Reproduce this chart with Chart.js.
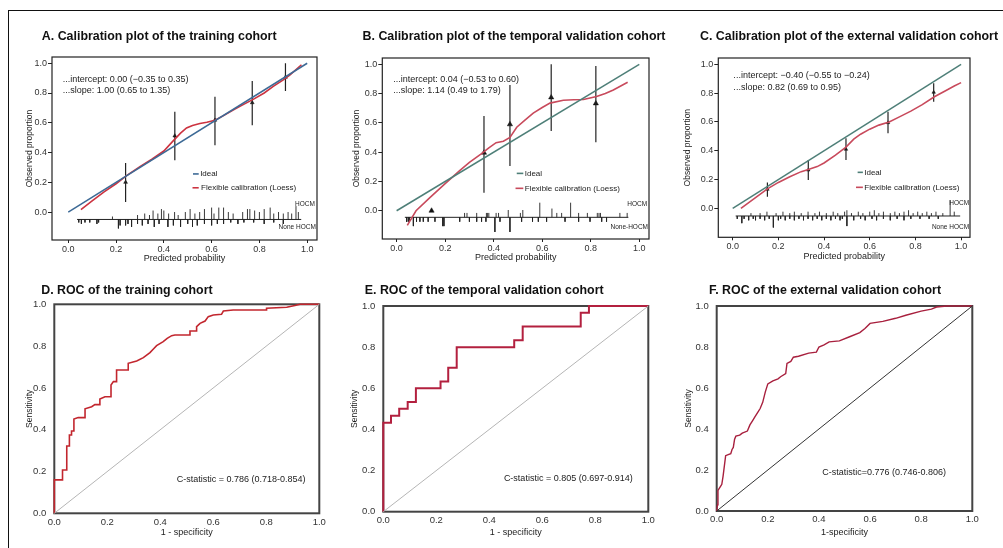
<!DOCTYPE html>
<html>
<head>
<meta charset="utf-8">
<script src="https://cdn.jsdelivr.net/npm/chart.js@4.4.0/dist/chart.umd.min.js"></script>
<style>
html, body { margin: 0; padding: 0; background: #fff; width: 1003px; height: 548px; overflow: hidden; }
#frame { position: absolute; left: 8px; top: 10px; width: 1010px; height: 600px; border-left: 1.5px solid #111; border-top: 1.5px solid #111; }
canvas { position: absolute; }
</style>
</head>
<body>
<div id="frame"></div>
<script>
var FONT = "'Liberation Sans', Arial, sans-serif";
var tickVals = [0, 0.2, 0.4, 0.6, 0.8, 1.0];

// ---- A. calibration, training cohort
var loessA_x = [0.053, 0.1, 0.15, 0.2, 0.244, 0.3, 0.35, 0.4, 0.44, 0.47, 0.495, 0.52, 0.551, 0.58, 0.614, 0.65, 0.69, 0.73, 0.774, 0.82, 0.858, 0.9, 0.927, 0.976];
var loessA_y = [0.016, 0.075, 0.135, 0.19, 0.245, 0.305, 0.355, 0.41, 0.48, 0.53, 0.565, 0.582, 0.595, 0.603, 0.617, 0.648, 0.685, 0.72, 0.757, 0.8, 0.845, 0.888, 0.92, 0.99];
var groupA_x = [0.24, 0.446, 0.614, 0.77, 0.909];
var groupA_obs = [0.20, 0.512, 0.618, 0.735, 0.906];
var groupA_lo = [0.067, 0.348, 0.449, 0.584, 0.813];
var groupA_hi = [0.33, 0.674, 0.775, 0.881, 1.0];
var rugA_upX = [0.185, 0.29, 0.32, 0.34, 0.355, 0.375, 0.39, 0.40, 0.42, 0.445, 0.46, 0.49, 0.51, 0.53, 0.55, 0.57, 0.60, 0.61, 0.63, 0.65, 0.67, 0.69, 0.73, 0.75, 0.76, 0.78, 0.80, 0.82, 0.845, 0.86, 0.88, 0.90, 0.92, 0.935, 0.953, 0.963];
var rugA_upH = [0.02, 0.03, 0.04, 0.03, 0.06, 0.04, 0.07, 0.06, 0.04, 0.05, 0.03, 0.05, 0.07, 0.04, 0.05, 0.07, 0.08, 0.04, 0.08, 0.08, 0.05, 0.04, 0.05, 0.07, 0.07, 0.06, 0.05, 0.07, 0.08, 0.04, 0.05, 0.04, 0.05, 0.04, 0.09, 0.05];
var rugA_dnX = [0.044, 0.055, 0.07, 0.09, 0.12, 0.127, 0.21, 0.217, 0.24, 0.25, 0.265, 0.29, 0.31, 0.334, 0.36, 0.38, 0.417, 0.44, 0.47, 0.5, 0.52, 0.54, 0.57, 0.6, 0.624, 0.65, 0.68, 0.71, 0.735, 0.776, 0.82, 0.86, 0.9];
var rugA_dnH = [0.02, 0.03, 0.02, 0.02, 0.03, 0.02, 0.06, 0.04, 0.04, 0.03, 0.05, 0.03, 0.04, 0.03, 0.05, 0.03, 0.05, 0.04, 0.05, 0.03, 0.05, 0.04, 0.03, 0.04, 0.03, 0.03, 0.02, 0.03, 0.02, 0.02, 0.03, 0.02, 0.03];

// ---- B. calibration, temporal validation cohort
var loessB_x = [0.044, 0.08, 0.137, 0.2, 0.261, 0.3, 0.35, 0.38, 0.41, 0.44, 0.467, 0.495, 0.53, 0.563, 0.6, 0.632, 0.687, 0.73, 0.77, 0.824, 0.86, 0.893, 0.952];
var loessB_y = [-0.10, 0.0, 0.09, 0.185, 0.275, 0.33, 0.39, 0.43, 0.465, 0.475, 0.5, 0.57, 0.62, 0.667, 0.705, 0.735, 0.755, 0.758, 0.76, 0.78, 0.8, 0.825, 0.877];
var groupB_x = [0.144, 0.36, 0.467, 0.637, 0.821];
var groupB_obs = [0.0, 0.396, 0.59, 0.774, 0.733];
var groupB_lo = [0.0, 0.123, 0.305, 0.544, 0.467];
var groupB_hi = [0.0, 0.647, 0.859, 1.0, 0.989];
var rugB_upX = [0.28, 0.29, 0.33, 0.37, 0.375, 0.38, 0.41, 0.42, 0.46, 0.51, 0.52, 0.59, 0.64, 0.66, 0.68, 0.717, 0.75, 0.786, 0.827, 0.834, 0.84, 0.92, 0.95];
var rugB_upH = [0.03, 0.03, 0.03, 0.03, 0.03, 0.03, 0.03, 0.03, 0.05, 0.03, 0.05, 0.1, 0.06, 0.03, 0.03, 0.1, 0.03, 0.03, 0.03, 0.03, 0.03, 0.03, 0.03];
var rugB_dnX = [0.041, 0.048, 0.052, 0.069, 0.082, 0.096, 0.11, 0.13, 0.158, 0.19, 0.195, 0.26, 0.3, 0.33, 0.35, 0.368, 0.405, 0.426, 0.467, 0.515, 0.56, 0.584, 0.618, 0.694, 0.75, 0.797, 0.845, 0.865];
var rugB_dnH = [0.03, 0.03, 0.03, 0.06, 0.03, 0.03, 0.03, 0.03, 0.03, 0.06, 0.06, 0.03, 0.03, 0.03, 0.03, 0.03, 0.1, 0.03, 0.1, 0.03, 0.03, 0.03, 0.03, 0.03, 0.03, 0.03, 0.03, 0.03];

// ---- C. calibration, external validation cohort
var loessC_x = [0.036, 0.1, 0.152, 0.2, 0.25, 0.3, 0.331, 0.37, 0.4, 0.45, 0.496, 0.53, 0.56, 0.6, 0.64, 0.685, 0.73, 0.78, 0.83, 0.883, 0.93, 0.97, 1.0];
var loessC_y = [0.0, 0.075, 0.135, 0.18, 0.22, 0.255, 0.27, 0.29, 0.315, 0.37, 0.425, 0.48, 0.515, 0.55, 0.578, 0.60, 0.635, 0.675, 0.72, 0.775, 0.815, 0.85, 0.873];
var groupC_x = [0.152, 0.331, 0.496, 0.68, 0.88];
var groupC_obs = [0.132, 0.266, 0.41, 0.595, 0.806];
var groupC_lo = [0.081, 0.197, 0.336, 0.521, 0.741];
var groupC_hi = [0.18, 0.336, 0.486, 0.671, 0.868];
var rugC_upX = [0.08, 0.12, 0.15, 0.19, 0.22, 0.25, 0.27, 0.3, 0.33, 0.36, 0.38, 0.41, 0.44, 0.46, 0.49, 0.5, 0.52, 0.55, 0.57, 0.6, 0.62, 0.64, 0.66, 0.69, 0.71, 0.73, 0.75, 0.77, 0.79, 0.81, 0.83, 0.85, 0.87, 0.89, 0.92, 0.952, 0.97];
var rugC_upH = [0.02, 0.02, 0.03, 0.02, 0.03, 0.02, 0.03, 0.02, 0.03, 0.02, 0.03, 0.02, 0.03, 0.02, 0.03, 0.04, 0.02, 0.03, 0.02, 0.03, 0.04, 0.02, 0.03, 0.02, 0.03, 0.02, 0.03, 0.04, 0.02, 0.03, 0.02, 0.03, 0.02, 0.03, 0.02, 0.11, 0.03];
var rugC_dnX = [0.02, 0.04, 0.05, 0.07, 0.09, 0.1, 0.12, 0.14, 0.16, 0.178, 0.2, 0.21, 0.23, 0.25, 0.27, 0.29, 0.31, 0.33, 0.35, 0.37, 0.39, 0.41, 0.43, 0.45, 0.47, 0.48, 0.5, 0.53, 0.56, 0.58, 0.61, 0.63, 0.66, 0.69, 0.72, 0.75, 0.78, 0.82, 0.86, 0.9];
var rugC_dnH = [0.02, 0.05, 0.02, 0.03, 0.02, 0.03, 0.02, 0.03, 0.02, 0.08, 0.03, 0.02, 0.03, 0.02, 0.03, 0.02, 0.03, 0.02, 0.03, 0.02, 0.03, 0.02, 0.03, 0.02, 0.03, 0.02, 0.07, 0.03, 0.02, 0.03, 0.02, 0.03, 0.02, 0.03, 0.02, 0.03, 0.02, 0.02, 0.02, 0.02];

// ---- D/E/F. ROC curves (1 - specificity, sensitivity)
var rocD_fpr = [0, 0, 0.031, 0.031, 0.047, 0.047, 0.057, 0.057, 0.065, 0.065,
  0.074, 0.074, 0.09, 0.116, 0.116, 0.141, 0.153, 0.172, 0.172, 0.191,
  0.214, 0.214, 0.223, 0.235, 0.235, 0.279, 0.279, 0.311, 0.336, 0.361,
  0.374, 0.386, 0.411, 0.426, 0.443, 0.455, 0.512, 0.512, 0.537, 0.537,
  0.55, 0.569, 0.581, 0.6, 0.631, 0.638, 0.675, 0.801, 0.801, 0.877,
  0.908, 0.927, 1.0];
var rocD_tpr = [0, 0.16, 0.16, 0.207, 0.207, 0.322, 0.322, 0.375, 0.375, 0.394,
  0.394, 0.451, 0.458, 0.458, 0.5, 0.51, 0.52, 0.52, 0.547, 0.558,
  0.558, 0.614, 0.63, 0.63, 0.686, 0.686, 0.718, 0.729, 0.745, 0.769,
  0.786, 0.802, 0.821, 0.837, 0.85, 0.853, 0.853, 0.872, 0.872, 0.893,
  0.909, 0.92, 0.941, 0.949, 0.952, 0.968, 0.973, 0.973, 0.981, 0.986,
  0.994, 1.0, 1.0];
var rocE_fpr = [0, 0, 0.029, 0.029, 0.06, 0.06, 0.092, 0.092, 0.123, 0.123, 0.216, 0.216, 0.245, 0.245, 0.277, 0.277, 0.494, 0.494, 0.526, 0.526, 0.745, 0.745, 0.776, 0.776, 1.0];
var rocE_tpr = [0, 0.433, 0.433, 0.467, 0.467, 0.5, 0.5, 0.533, 0.533, 0.6, 0.6, 0.633, 0.633, 0.7, 0.7, 0.8, 0.8, 0.833, 0.833, 0.9, 0.9, 0.967, 0.967, 1.0, 1.0];
var rocF_fpr = [0, 0.003, 0.005, 0.01, 0.015, 0.02, 0.025, 0.03, 0.035, 0.045,
  0.055, 0.06, 0.065, 0.07, 0.075, 0.09, 0.1, 0.12, 0.13, 0.14,
  0.15, 0.16, 0.17, 0.18, 0.19, 0.2, 0.22, 0.24, 0.25, 0.27,
  0.275, 0.29, 0.3, 0.32, 0.36, 0.39, 0.4, 0.42, 0.44, 0.48,
  0.52, 0.56, 0.58, 0.6, 0.65, 0.7, 0.74, 0.8, 0.84, 0.86,
  0.9, 0.95, 1.0];
var rocF_tpr = [0, 0.03, 0.1, 0.11, 0.12, 0.13, 0.17, 0.22, 0.27, 0.275,
  0.28, 0.3, 0.31, 0.35, 0.365, 0.37, 0.38, 0.39, 0.42, 0.44,
  0.46, 0.48, 0.5, 0.53, 0.58, 0.62, 0.635, 0.645, 0.655, 0.67,
  0.72, 0.73, 0.75, 0.755, 0.77, 0.775, 0.8, 0.81, 0.825, 0.83,
  0.85, 0.87, 0.89, 0.915, 0.925, 0.94, 0.955, 0.975, 0.985, 0.995,
  1.0, 1.0, 1.0];

function pts(xs, ys) {
    return xs.map(function (x, i) { return { x: x, y: ys[i] }; });
}
function bars(xs, lo, hi) {
    var out = [];
    xs.forEach(function (x, i) { out.push({ x: x, y: lo[i] }, { x: x, y: hi[i] }, { x: x, y: null }); });
    return out;
}
function rug(xs, hs, base, dir) {
    var out = [];
    xs.forEach(function (x, i) { out.push({ x: x, y: base }, { x: x, y: base + dir * hs[i] }, { x: x, y: null }); });
    return out;
}
function lineSet(data, color, width) {
    return { data: data, showLine: true, borderColor: color, borderWidth: width, pointRadius: 0, tension: 0, fill: false, clip: 4 };
}

var framePlugin = {
    id: 'frame',
    beforeDatasetsDraw: function (chart, args, opts) {
        var a = chart.chartArea, ctx = chart.ctx;
        ctx.save();
        ctx.strokeStyle = opts.color;
        ctx.lineWidth = opts.width;
        ctx.strokeRect(a.left, a.top, a.right - a.left, a.bottom - a.top);
        ctx.restore();
    }
};

var notesPlugin = {
    id: 'notes',
    afterDatasetsDraw: function (chart, args, opts) {
        var ctx = chart.ctx, xs = chart.scales.x, ys = chart.scales.y;
        ctx.save();
        (opts.swatches || []).forEach(function (s) {
            var py = ys.getPixelForValue(s.y);
            ctx.strokeStyle = s.color;
            ctx.lineWidth = 1.6;
            ctx.beginPath();
            ctx.moveTo(xs.getPixelForValue(s.x0), py);
            ctx.lineTo(xs.getPixelForValue(s.x1), py);
            ctx.stroke();
        });
        (opts.items || []).forEach(function (n) {
            ctx.font = n.size + 'px ' + FONT;
            ctx.fillStyle = '#222';
            ctx.textAlign = n.align || 'left';
            ctx.textBaseline = 'middle';
            ctx.fillText(n.text, xs.getPixelForValue(n.x), ys.getPixelForValue(n.y));
        });
        ctx.restore();
    }
};

function makePanel(id, p) {
    // canvas spans from just left of the y title; a blank right-hand axis widens the
    // title box so that the centred title lands where it is in the figure
    var CL = Math.floor(Math.min(p.yTitleX - 8, 2 * p.tcx - p.box.r));
    var y2W = 2 * p.tcx - CL - p.box.r;
    var CW = Math.ceil(p.box.r + y2W + 8 - CL);
    var pr = CL + CW - p.box.r - y2W;
    var CT = Math.round(p.tcy - 12), CH = Math.round(p.xTitleY + 9 - CT);
    var canvas = document.createElement('canvas');
    canvas.id = id;
    canvas.width = CW;
    canvas.height = CH;
    canvas.style.left = CL + 'px';
    canvas.style.top = CT + 'px';
    canvas.style.width = CW + 'px';
    canvas.style.height = CH + 'px';
    document.body.appendChild(canvas);

    var yW = p.box.l - CL;
    var xH = CT + CH - p.box.b;
    var tickFont = { family: FONT, size: p.tickSize };
    var ctx = canvas.getContext('2d');
    return new Chart(ctx, {
        type: 'scatter',
        data: { datasets: p.datasets },
        options: {
            responsive: false,
            devicePixelRatio: 1,
            animation: false,
            events: [],
            layout: { padding: { left: 0, top: 0, bottom: 0, right: pr } },
            plugins: {
                legend: { display: false },
                tooltip: { enabled: false },
                title: {
                    display: true,
                    text: p.title,
                    color: '#111',
                    font: { family: FONT, size: 12.4, weight: 'bold', lineHeight: 1.2 },
                    padding: { top: p.tcy - 7.44 - CT, bottom: p.box.t - p.tcy - 7.44 }
                },
                frame: { color: p.frameColor, width: p.frameWidth },
                notes: p.notes || {}
            },
            scales: {
                x: {
                    type: 'linear', position: 'bottom', min: p.xMin, max: p.xMax,
                    afterBuildTicks: function (s) { s.ticks = tickVals.map(function (v) { return { value: v }; }); },
                    afterFit: function (s) { s.height = xH; },
                    border: { display: false },
                    grid: { display: p.drawTicks, drawOnChartArea: false, drawTicks: true, tickLength: 3, color: '#222' },
                    ticks: { font: tickFont, color: '#333', padding: p.xTickPad, maxRotation: 0, callback: function (v) { return v.toFixed(1); } },
                    title: { display: true, text: p.xTitle, color: '#222', font: { family: FONT, size: 9, lineHeight: 1.2 }, padding: { top: 0, bottom: CT + CH - p.xTitleY - 5.4 } }
                },
                y: {
                    type: 'linear', position: 'left', min: p.yMin, max: p.yMax,
                    afterBuildTicks: function (s) { s.ticks = tickVals.map(function (v) { return { value: v }; }); },
                    afterFit: function (s) { s.width = yW; },
                    border: { display: false },
                    grid: { display: p.drawTicks, drawOnChartArea: false, drawTicks: true, tickLength: 4, color: '#222' },
                    ticks: { font: tickFont, color: '#333', padding: p.yTickPad, callback: function (v) { return v.toFixed(1); } },
                    title: { display: true, text: p.yTitle, color: '#222', font: { family: FONT, size: 8.5, lineHeight: 1.2 }, padding: { top: p.yTitleX - CL - 5.1, bottom: 0 } }
                },
                y2: {
                    type: 'linear', position: 'right', min: 0, max: 1,
                    afterFit: function (s) { s.width = y2W; },
                    border: { display: false },
                    grid: { display: false },
                    ticks: { display: false }
                }
            }
        },
        plugins: [framePlugin, notesPlugin]
    });
}

function calDatasets(ideal, red, lx, ly, gx, gobs, glo, ghi, base, r0, r1, upX, upH, dnX, dnH, ptR) {
    return [
        lineSet(pts([0, 1], [0, 1]), ideal, 1.5),
        lineSet(pts(lx, ly), red, 1.6),
        lineSet(bars(gx, glo, ghi), '#222', 1.2),
        { data: pts(gx, gobs), pointStyle: 'triangle', pointRadius: ptR, backgroundColor: '#111', borderColor: '#111', borderWidth: 0.5, showLine: false },
        lineSet(pts([r0, r1], [base, base]), '#222', 1),
        lineSet(rug(upX, upH, base, 1), '#222', 0.9),
        lineSet(rug(dnX, dnH, base, -1), '#222', 0.9)
    ];
}

var IDEAL_A = '#3d6a96', IDEAL_BC = '#4e7f78', RED_A = '#cc3340', RED_BC = '#c84a5c';

makePanel('chartA', {
    title: 'A. Calibration plot of the training cohort',
    box: { l: 52, t: 57, r: 317, b: 240 }, tcx: 159.2, tcy: 36.7, yTitleX: 30, xTitleY: 258.3,
    xMin: -0.068, xMax: 1.041, yMin: -0.188, yMax: 1.042,
    tickSize: 9, drawTicks: true, xTickPad: 1, yTickPad: 1,
    xTitle: 'Predicted probability', yTitle: 'Observed proportion',
    frameColor: '#222', frameWidth: 1.2,
    datasets: calDatasets(IDEAL_A, RED_A, loessA_x, loessA_y, groupA_x, groupA_obs, groupA_lo, groupA_hi,
        -0.05, 0.037, 0.975, rugA_upX, rugA_upH, rugA_dnX, rugA_dnH, 2.2),
    notes: {
        swatches: [{ x0: 0.522, x1: 0.546, y: 0.256, color: IDEAL_A }, { x0: 0.52, x1: 0.546, y: 0.163, color: RED_A }],
        items: [
            { x: -0.023, y: 0.888, text: '...intercept: 0.00 (\u22120.35 to 0.35)', size: 9 },
            { x: -0.023, y: 0.814, text: '...slope: 1.00 (0.65 to 1.35)', size: 9 },
            { x: 0.552, y: 0.256, text: 'Ideal', size: 8 },
            { x: 0.556, y: 0.163, text: 'Flexible calibration (Loess)', size: 8 },
            { x: 1.032, y: 0.054, text: 'HOCM', size: 6.5, align: 'right' },
            { x: 1.036, y: -0.103, text: 'None HOCM', size: 6.5, align: 'right' }
        ]
    }
});

makePanel('chartB', {
    title: 'B. Calibration plot of the temporal validation cohort',
    box: { l: 382.3, t: 58, r: 649, b: 239 }, tcx: 514, tcy: 36.7, yTitleX: 356.7, xTitleY: 258,
    xMin: -0.059, xMax: 1.04, yMin: -0.193, yMax: 1.043,
    tickSize: 9, drawTicks: true, xTickPad: 1, yTickPad: 1,
    xTitle: 'Predicted probability', yTitle: 'Observed proportion',
    frameColor: '#222', frameWidth: 1.2,
    datasets: calDatasets(IDEAL_BC, RED_BC, loessB_x, loessB_y, groupB_x, groupB_obs, groupB_lo, groupB_hi,
        -0.045, 0.034, 0.955, rugB_upX, rugB_upH, rugB_dnX, rugB_dnH, 3),
    notes: {
        swatches: [{ x0: 0.495, x1: 0.522, y: 0.255, color: IDEAL_BC }, { x0: 0.49, x1: 0.522, y: 0.153, color: RED_BC }],
        items: [
            { x: -0.014, y: 0.893, text: '...intercept: 0.04 (\u22120.53 to 0.60)', size: 9 },
            { x: -0.014, y: 0.818, text: '...slope: 1.14 (0.49 to 1.79)', size: 9 },
            { x: 0.528, y: 0.255, text: 'Ideal', size: 8 },
            { x: 0.528, y: 0.153, text: 'Flexible calibration (Loess)', size: 8 },
            { x: 1.032, y: 0.046, text: 'HOCM', size: 6.5, align: 'right' },
            { x: 1.036, y: -0.111, text: 'None-HOCM', size: 6.5, align: 'right' }
        ]
    }
});

makePanel('chartC', {
    title: 'C. Calibration plot of the external validation cohort',
    box: { l: 718.3, t: 58, r: 970, b: 237.3 }, tcx: 849, tcy: 36.7, yTitleX: 688, xTitleY: 257,
    xMin: -0.063, xMax: 1.039, yMin: -0.201, yMax: 1.044,
    tickSize: 9, drawTicks: true, xTickPad: 1, yTickPad: 1,
    xTitle: 'Predicted probability', yTitle: 'Observed proportion',
    frameColor: '#222', frameWidth: 1.2,
    datasets: calDatasets(IDEAL_BC, RED_BC, loessC_x, loessC_y, groupC_x, groupC_obs, groupC_lo, groupC_hi,
        -0.053, 0.013, 0.996, rugC_upX, rugC_upH, rugC_dnX, rugC_dnH, 2),
    notes: {
        swatches: [{ x0: 0.547, x1: 0.57, y: 0.25, color: IDEAL_BC }, { x0: 0.54, x1: 0.57, y: 0.146, color: RED_BC }],
        items: [
            { x: 0.003, y: 0.919, text: '...intercept: \u22120.40 (\u22120.55 to \u22120.24)', size: 9 },
            { x: 0.003, y: 0.842, text: '...slope: 0.82 (0.69 to 0.95)', size: 9 },
            { x: 0.576, y: 0.25, text: 'Ideal', size: 8 },
            { x: 0.576, y: 0.146, text: 'Flexible calibration (Loess)', size: 8 },
            { x: 1.035, y: 0.039, text: 'HOCM', size: 6.5, align: 'right' },
            { x: 1.035, y: -0.128, text: 'None HOCM', size: 6.5, align: 'right' }
        ]
    }
});

function rocPanel(id, p, fpr, tpr, curveColor, curveWidth, diagColor, cText, cx, cy) {
    p.xMin = 0; p.xMax = 1; p.yMin = 0; p.yMax = 1;
    p.tickSize = 9.5; p.drawTicks = false; p.xTickPad = 0; p.yTickPad = 4;
    p.yTitle = 'Sensitivity';
    p.frameColor = '#444'; p.frameWidth = 2;
    p.datasets = [
        lineSet(pts([0, 1], [0, 1]), diagColor, 1),
        lineSet(pts(fpr, tpr), curveColor, curveWidth)
    ];
    p.notes = { items: [{ x: cx, y: cy, text: cText, size: 9 }] };
    return makePanel(id, p);
}

rocPanel('chartD', {
    title: 'D. ROC of the training cohort', xTitle: '1 - specificity',
    box: { l: 54.3, t: 304.3, r: 319.3, b: 513.3 }, tcx: 126.9, tcy: 291, yTitleX: 30, xTitleY: 533
}, rocD_fpr, rocD_tpr, '#c2262e', 1.6, '#b5b5b5', 'C-statistic = 0.786 (0.718-0.854)', 0.462, 0.16);

rocPanel('chartE', {
    title: 'E. ROC of the temporal validation cohort', xTitle: '1 - specificity',
    box: { l: 383.3, t: 306, r: 648.3, b: 511.7 }, tcx: 484.2, tcy: 291, yTitleX: 355, xTitleY: 532.3
}, rocE_fpr, rocE_tpr, '#b3203f', 2, '#b5b5b5', 'C-statistic = 0.805 (0.697-0.914)', 0.455, 0.159);

rocPanel('chartF', {
    title: 'F. ROC of the external validation cohort', xTitle: '1-specificity',
    box: { l: 716.7, t: 306, r: 972.3, b: 511 }, tcx: 825, tcy: 291, yTitleX: 688.3, xTitleY: 532.3
}, rocF_fpr, rocF_tpr, '#a8203e', 1.4, '#333', 'C-statistic=0.776 (0.746-0.806)', 0.413, 0.189);
</script>
</body>
</html>
